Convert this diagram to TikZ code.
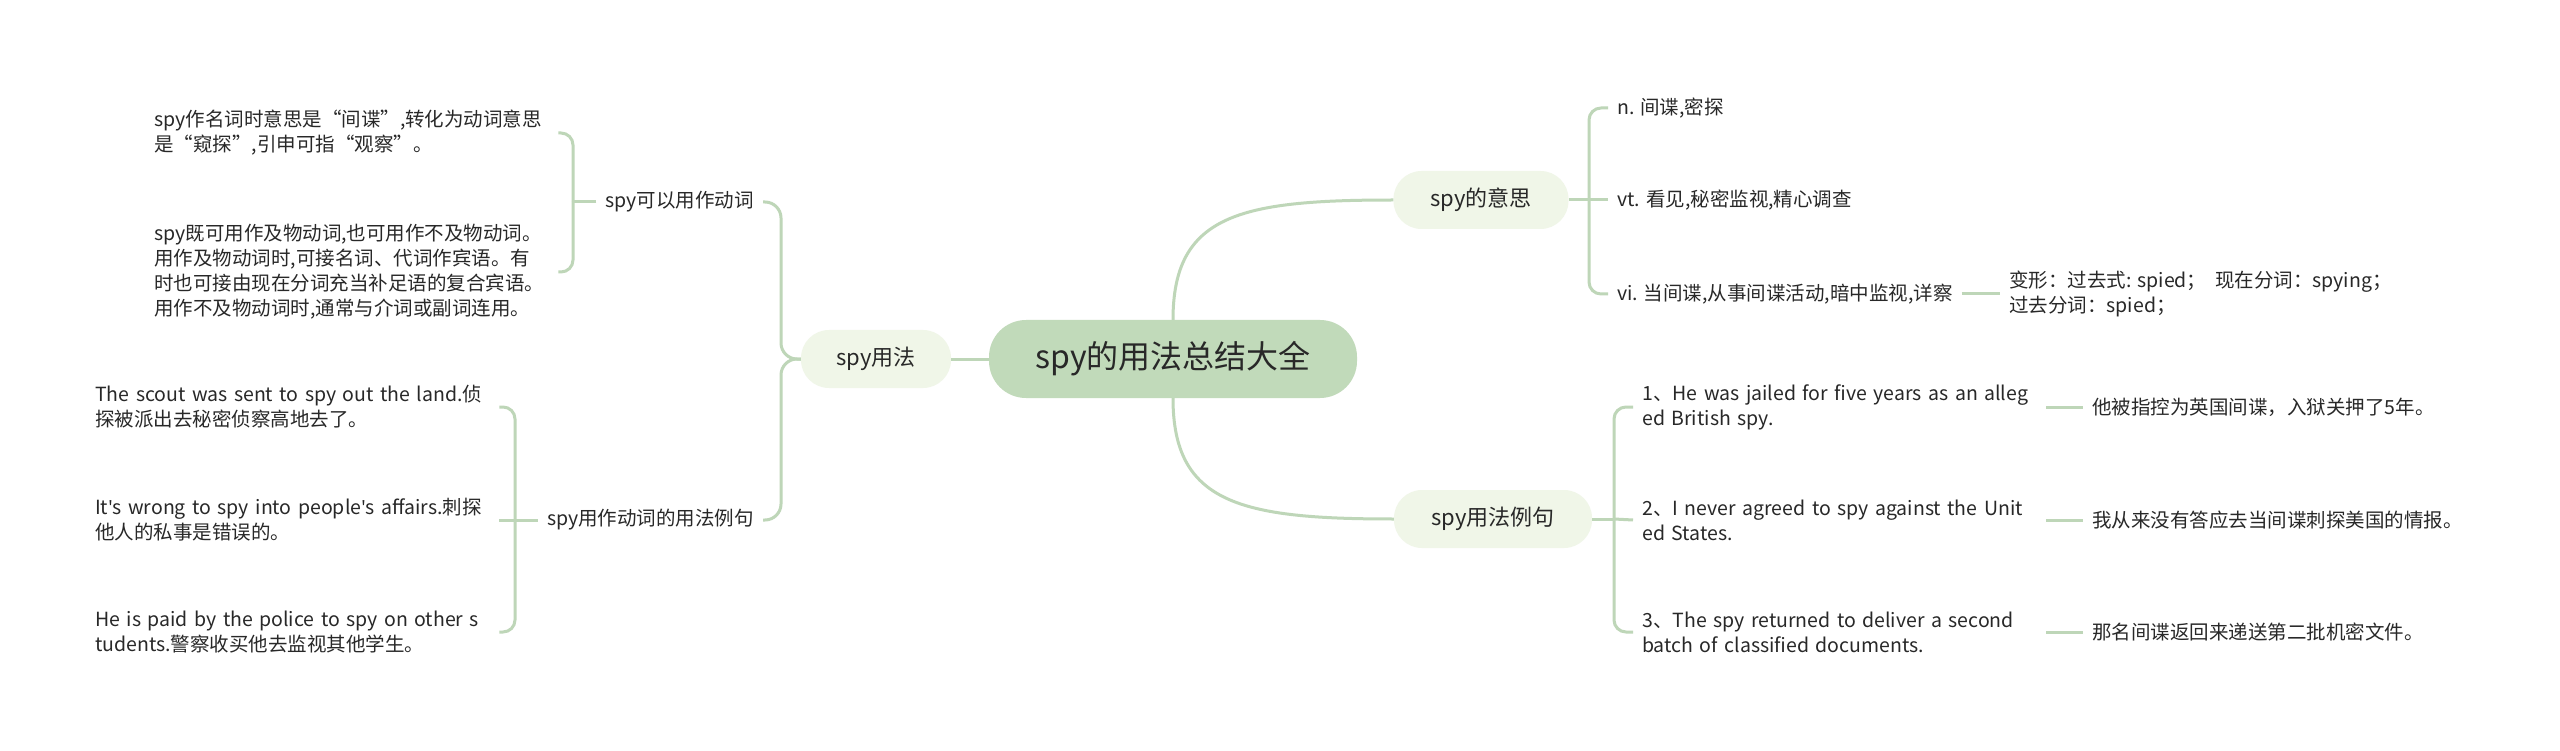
\documentclass[tikz,border=0pt]{standalone}
\usepackage{fontspec}
\setmainfont{Noto Sans CJK SC}
\newfontfamily\latfont{Noto Sans}
\newcommand\ap{{\latfont'}}
\definecolor{lineg}{RGB}{190,214,184}
\definecolor{rootfill}{RGB}{193,218,186}
\definecolor{subfill}{RGB}{240,246,232}
\definecolor{txt}{RGB}{40,40,40}
\begin{document}
\begin{tikzpicture}[x=1pt,y=-1pt,
  conn/.style={draw=lineg, line width=3pt},
  root/.style={fill=rootfill, rounded corners=37pt, minimum width=368pt, minimum height=78pt, text=txt, font=\fontsize{32pt}{38pt}\selectfont},
  sub/.style={fill=subfill, rounded corners=28pt, minimum height=58pt, text=txt, font=\fontsize{22pt}{26pt}\selectfont},
  lbl/.style={inner xsep=9pt, inner ysep=3pt, text=txt, font=\fontsize{19.5pt}{25pt}\selectfont},
  leaf/.style={lbl, text width=395pt, align=left}
]
\useasboundingbox (0,0) rectangle (2560,751);
\fill[white] (0,0) rectangle (2560,751);

% main nodes
\node[root] (root) at (1173,359) {spy的用法总结大全};
\node[sub, minimum width=150pt] (use) at (876,359) {spy用法};
\node[sub, minimum width=175pt] (mean) at (1481,200) {spy的意思};
\node[sub, minimum width=198pt] (ex) at (1493,519) {spy用法例句};

% left branch
\node[lbl, anchor=east] (verb) at (763,202) {spy可以用作动词};
\node[lbl, anchor=east] (vex) at (763,520) {spy用作动词的用法例句};
\node[leaf, anchor=west] (v1) at (145,133) {spy作名词时意思是“间谍”,转化为动词意思\\是“窥探”,引申可指“观察”。};
\node[leaf, anchor=west] (v2) at (145,272) {spy既可用作及物动词,也可用作不及物动词。\\用作及物动词时,可接名词、代词作宾语。有\\时也可接由现在分词充当补足语的复合宾语。\\用作不及物动词时,通常与介词或副词连用。};
\node[leaf, anchor=west] (x1) at (86,407) {\mbox{The scout was sent to spy out the land.侦}\\探被派出去秘密侦察高地去了。};
\node[leaf, anchor=west] (x2) at (86,520) {\mbox{It\ap s wrong to spy into people\ap s affairs.刺探}\\他人的私事是错误的。};
\node[leaf, anchor=west] (x3) at (86,632) {\mbox{He is paid by the police to spy on other s}\\tudents.警察收买他去监视其他学生。};

% right branch: meaning
\node[lbl, anchor=west] (n) at (1608,108) {n. 间谍,密探};
\node[lbl, anchor=west] (vt) at (1608,200) {vt. 看见,秘密监视,精心调查};
\node[lbl, anchor=west] (vi) at (1608,294) {vi. 当间谍,从事间谍活动,暗中监视,详察};
\node[lbl, anchor=west, align=left] (bx) at (2000,294) {变形：过去式: spied；\ \ 现在分词：spying；\\过去分词：spied；};

% right branch: examples
\node[leaf, anchor=west] (e1) at (1633,407) {\mbox{1、He was jailed for five years as an alleg}\\ed British spy.};
\node[leaf, anchor=west] (e2) at (1633,520) {\mbox{2、I never agreed to spy against the Unit}\\ed States.};
\node[leaf, anchor=west] (e3) at (1633,632) {\mbox{3、The spy returned to deliver a second}\\batch of classified documents.};
\node[lbl, anchor=west] (t1) at (2083,407) {他被指控为英国间谍，入狱关押了5年。};
\node[lbl, anchor=west] (t2) at (2083,520) {我从来没有答应去当间谍刺探美国的情报。};
\node[lbl, anchor=west] (t3) at (2083,632) {那名间谍返回来递送第二批机密文件。};

% junction coordinates
\coordinate (lj) at (781,359);
\coordinate (vj) at (573,202);
\coordinate (xj) at (515,520);
\coordinate (mj) at (1589,200);
\coordinate (ej) at (1614,519);

% connectors from root
\draw[conn] (root.north) .. controls +(0,-105) and +(-154,0) .. (mean.west);
\draw[conn] (root.south) .. controls +(0,105) and +(-154,0) .. (ex.west);
\draw[conn] (root.west) -- (use.east);

% left
\draw[conn, rounded corners=16pt] (use.west) -- (lj) |- (verb.east);
\draw[conn, rounded corners=16pt] (use.west) -- (lj) |- (vex.east);
\draw[conn] (verb.west) -- (vj);
\draw[conn, rounded corners=12pt] (vj) |- (v1.east);
\draw[conn, rounded corners=12pt] (vj) |- (v2.east);
\draw[conn] (vex.west) -- (xj);
\draw[conn, rounded corners=12pt] (xj) |- (x1.east);
\draw[conn] (xj) -- (x2.east);
\draw[conn, rounded corners=12pt] (xj) |- (x3.east);

% right: meaning
\draw[conn] (mean.east) -- (mj);
\draw[conn, rounded corners=12pt] (mj) |- (n.west);
\draw[conn] (mj) -- (vt.west);
\draw[conn, rounded corners=12pt] (mj) |- (vi.west);
\draw[conn] (vi.east) -- (bx.west);

% right: examples
\draw[conn] (ex.east) -- (ej);
\draw[conn, rounded corners=12pt] (ej) |- (e1.west);
\draw[conn] (ej) -- (e2.west);
\draw[conn, rounded corners=12pt] (ej) |- (e3.west);
\draw[conn] (e1.east) -- (t1.west);
\draw[conn] (e2.east) -- (t2.west);
\draw[conn] (e3.east) -- (t3.west);
\end{tikzpicture}
\end{document}
